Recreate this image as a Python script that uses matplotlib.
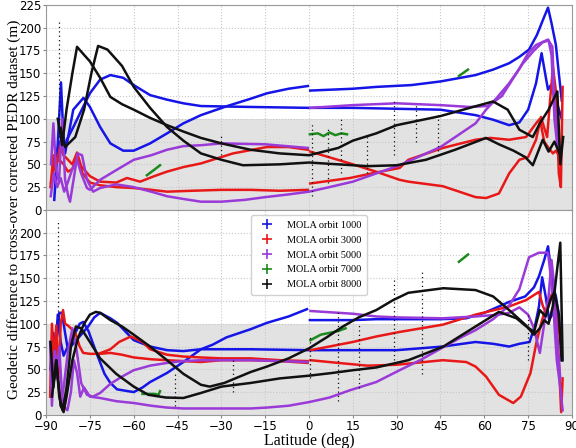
import matplotlib
matplotlib.use("Agg")
import matplotlib.pyplot as plt
from matplotlib.lines import Line2D

# colours per orbit
orbit_labels = ["MOLA orbit 1000", "MOLA orbit 3000", "MOLA orbit 5000", "MOLA orbit 7000", "MOLA orbit 8000"]
orbit_colors = ["#1515e8", "#e81818", "#9a3ad8", "#1e8a1e", "#111111"]

lat_ticks = list(range(-90, 91, 15))

# ---------------- upper panel ----------------
top_blue_a_lat = [-87.2, -86.2, -84.9, -84.2, -83.5, -80.7, -77.2, -75, -71.5, -68, -63.6, -60, -54.4, -48.6, -43, -37, -28, -20, -14.4, -7, -0.4]
top_blue_a_val = [11, 60, 140, 90, 62, 110, 123, 113, 91, 73, 65, 65, 73, 84, 95, 104, 114, 122, 128, 133, 136]
top_blue_b_lat = [0.4, 15, 23, 35, 45, 57, 63, 68.5, 72, 75.3, 78, 80.5, 81.8, 83, 84.5, 85.5, 86.5]
top_blue_b_val = [131, 133, 135, 137, 141, 148, 154, 161, 168, 176, 192, 212, 222, 205, 181, 150, 120]
top_blue_c_lat = [-87.5, -85.5, -84, -82.9, -80.5, -78.4, -75, -71.5, -68, -63.6, -60, -54.4, -48.6, -43, -37, -20, 0, 15, 30, 45, 57, 63, 68.5, 72, 75, 77.7, 79.6, 80.8, 81.8, 82.8, 84.5, 86.5]
top_blue_c_val = [45, 75, 60, 77, 92, 106, 128, 143, 148, 145, 137, 126, 121, 117, 114, 113, 112, 112, 111, 110, 104, 99, 93, 96, 110, 139, 172, 150, 132, 137, 121, 100]

top_red_a_lat = [-88.3, -87, -85.5, -84, -82.5, -81, -79.4, -77.5, -75, -71.5, -66, -60, -54, -48.6, -40, -30, -20, -10, -0.4]
top_red_a_val = [30, 50, 55, 50, 42, 45, 60, 40, 30, 27, 25, 24, 22, 20, 21, 22, 22, 21, 22]
top_red_b_lat = [-88.5, -87.5, -86.5, -85.2, -84, -82.5, -81, -79.4, -78, -75, -71.5, -66, -62.3, -57.8, -53, -48.6, -43, -37, -26, -14.4, -7, -0.4]
top_red_b_val = [25, 60, 50, 70, 60, 55, 50, 63, 48, 37, 31, 30, 35, 31, 37, 42, 47, 51, 62, 69, 69, 66]
top_red_c_lat = [0.4, 14, 22.9, 31, 34, 45.8, 57, 60.6, 65, 68.5, 72, 75, 77.7, 79.4, 80.5, 81.5, 82.5, 83.5, 84.5, 85.5, 86.2, 86.8]
top_red_c_val = [64, 51, 42, 33, 31, 26, 14, 13, 18, 40, 55, 58, 77, 102, 90, 80, 120, 157, 130, 40, 25, 135]
top_red_d_lat = [0.4, 14, 22.9, 31, 34, 45.8, 57, 62, 68.5, 74.3, 77.7, 79, 80.5, 82, 83.5, 84.5, 85.5]
top_red_d_val = [29, 35, 41, 46, 55, 68, 77, 79, 77, 80, 95, 100, 75, 68, 62, 65, 60]

top_purple_a_lat = [-88.3, -87.5, -86.6, -85.6, -84.5, -83.5, -82.4, -81.8, -80.5, -79.2, -77.7, -76, -73.9, -71.5, -66, -60, -54, -48.6, -43, -37, -30, -22, -15, -7, 0, 7, 15, 23, 31, 45, 57, 60.6, 64, 68.5, 72, 75, 77.7, 81.8, 83.3, 84, 85, 86]
top_purple_a_val = [50, 95, 45, 30, 100, 33, 15, 9, 35, 62, 60, 33, 20, 24, 28, 25, 20, 15, 12, 9, 9, 11, 14, 17, 20, 25, 31, 40, 49, 69, 95, 110, 122, 139, 155, 172, 181, 187, 179, 120, 84, 60]
top_purple_b_lat = [-88.4, -87.4, -86.2, -85, -83.8, -82.6, -81, -79.4, -78, -76, -75, -71.5, -65.8, -60, -54, -48.6, -43, -37, -30, -15, -0.4]
top_purple_b_val = [15, 40, 25, 35, 20, 30, 45, 55, 40, 24, 22, 33, 44, 55, 60, 66, 70, 71, 73, 72, 68]
top_purple_c_lat = [0.4, 15, 30, 45, 55, 61, 63, 66, 68, 70, 73, 77, 80, 82, 83, 84, 85]
top_purple_c_val = [112, 115, 117, 115, 113, 114, 118, 125, 135, 145, 160, 175, 184, 186, 170, 100, 70]

top_green_a_lat = [-55.5, -53, -51]
top_green_a_val = [38, 44, 49]
top_green_b_lat = [0.3, 3, 5, 7, 9, 11, 13]
top_green_b_val = [83, 84, 81, 85, 82, 84, 83]
top_green_c_lat = [51.3, 54.4]
top_green_c_val = [147, 154]

top_black_a_lat = [-86, -84.5, -83, -81, -79.4, -77.5, -75, -71.5, -68, -64, -60, -54.4, -48.6, -43, -37, -30, -20, -10, 0, 10, 15, 23, 30, 45, 55, 63, 68, 72, 76.6, 79, 82, 85, 86, 87]
top_black_a_val = [100, 71, 110, 150, 179, 172, 163, 145, 124, 116, 110, 101, 93, 86, 79, 73, 66, 62, 60, 68, 76, 84, 93, 103, 112, 119, 110, 88, 80, 95, 110, 130, 50, 80]
top_black_b_lat = [-85, -83.5, -80, -77, -74.5, -72.2, -69, -64, -60, -54.4, -48.6, -43, -37, -30, -22.6, -10, 0, 10, 20, 30, 40, 50, 60.6, 65, 70, 74, 76.6, 80, 82, 84, 86]
top_black_b_val = [90, 69, 80, 110, 150, 180, 176, 158, 135, 112, 91, 76, 62, 55, 49, 50, 52, 50, 48, 49, 55, 66, 79, 72, 65, 58, 49, 77, 64, 75, 60]

# ---------------- lower panel ----------------
bot_blue_a_lat = [-88.5, -87.5, -86.8, -86, -85, -84, -83, -81.5, -80, -78.5, -77.3, -75.5, -73, -70, -68, -65.7, -62, -60, -57, -54.4, -48.6, -43, -37, -33, -28.3, -20, -14.4, -7, -0.7]
bot_blue_a_val = [50, 90, 70, 110, 80, 65, 72, 80, 90, 100, 102, 92, 70, 45, 35, 28, 26, 25, 30, 36, 46, 58, 72, 77, 85, 94, 101, 108, 116]
bot_blue_b_lat = [0.3, 15, 23, 45, 53.8, 60, 65, 68.5, 74, 77, 78.7, 80.5, 81.8, 82.8, 83.5, 84.5, 85.5, 86.5]
bot_blue_b_val = [104, 104, 105, 105, 106, 112, 119, 124, 130, 140, 152, 170, 185, 160, 141, 130, 110, 60]
bot_blue_c_lat = [-88.3, -87, -85.5, -84.6, -83.5, -82.5, -80.5, -78, -75.6, -73.5, -71.5, -68, -65.7, -60, -54.4, -48.6, -43, -37, -20, 0, 15, 30, 45.8, 57, 63, 68.5, 72, 75.5, 77.5, 78.7, 79.8, 81, 82.2, 83.2, 84.5, 85.5, 86.5]
bot_blue_c_val = [30, 60, 112, 112, 90, 71, 79, 88, 97, 107, 112, 106, 101, 82, 75, 71, 70, 72, 72, 71, 71, 71, 75, 80, 78, 75, 78, 80, 100, 119, 151, 130, 104, 110, 125, 100, 75]

bot_red_a_lat = [-88.6, -88, -87.3, -86.5, -85.8, -85, -84.2, -83.5, -82.5, -81.5, -80, -78.5, -77.3, -75, -71.5, -68, -64, -60, -54, -48.6, -43, -37, -30, -20, -10, -0.5]
bot_red_a_val = [20, 100, 60, 98, 40, 100, 115, 100, 98, 95, 90, 75, 68, 67, 67, 68, 66, 63, 61, 60, 59, 58, 60, 60, 59, 57]
bot_red_b_lat = [-72, -68, -65, -61, -57, -54.4, -48.6, -43, -37, -30, -20, -10, -0.5]
bot_red_b_val = [67, 72, 80, 86, 80, 72, 66, 64, 63, 62, 62, 60, 59]
bot_red_c_lat = [0.5, 10, 20, 30, 45.8, 53.8, 57, 60.6, 65, 69.9, 72.5, 75.8, 77.8, 79.5, 80.5, 81.5, 82.5, 83.3, 84.5, 85.5, 86.3, 86.8]
bot_red_c_val = [60, 57, 54, 55, 60, 58, 53, 42, 22, 13, 20, 46, 79, 101, 112, 118, 128, 134, 115, 60, 3, 40]
bot_red_d_lat = [0.5, 15, 23, 31, 45.8, 57, 68.5, 74.3, 78.7, 80, 81, 82.5, 83.5, 84.5, 85.5]
bot_red_d_val = [71, 80, 86, 91, 99, 110, 119, 126, 135, 120, 112, 125, 134, 110, 90]

bot_purple_a_lat = [-88.6, -88, -87.3, -86.5, -85.5, -84.5, -83.8, -82.7, -81.5, -80.5, -79.4, -78.3, -77, -75, -71.5, -66, -60, -54, -48.6, -43, -37, -30, -20, -14.4, -7, 0, 7, 14, 23, 31, 38, 45.8, 52, 57, 63, 68.5, 72, 75.3, 78.7, 81.8, 82.8, 83.8, 84.8, 86, 86.8]
bot_purple_a_val = [80, 10, 60, 40, 75, 20, 9, 5, 25, 60, 46, 20, 30, 20, 18.5, 15, 13, 10, 8, 7, 7, 7, 7, 8, 10, 14, 19, 27, 36, 49, 60, 74, 85, 93, 105, 120, 138, 173, 178, 178, 150, 110, 60, 30, 5]
bot_purple_b_lat = [-88, -87, -86, -85, -84, -82.5, -81, -79.5, -78, -76, -74, -71.5, -68, -64, -60, -54.4, -48.6, -43, -37, -30, -20, -10, -0.5]
bot_purple_b_val = [30, 70, 40, 10, 30, 70, 95, 70, 35, 22, 20, 24, 34, 42, 49, 54, 57, 59, 60, 60, 60, 59, 58]
bot_purple_c_lat = [0.5, 15, 23, 30, 45.8, 57, 65, 68.5, 72, 75, 77, 79, 80.5, 82, 83, 84, 85, 86]
bot_purple_c_val = [114, 111, 108, 107, 106, 108, 110, 112, 118, 110, 95, 68, 100, 130, 170, 140, 80, 40]

bot_green_a_lat = [-57, -53, -51.5, -51]
bot_green_a_val = [23, 23, 22, 26]
bot_green_b_lat = [0.5, 4, 7, 10, 12.5]
bot_green_b_val = [82, 88, 90, 92, 95]
bot_green_c_lat = [51.3, 54.4]
bot_green_c_val = [168, 176]

bot_black_a_lat = [-88.5, -87.5, -86.5, -85.5, -84.3, -83, -81.5, -79.8, -78, -75, -71.5, -66, -60, -55, -49, -43, -37, -30, -20, -10, 0, 8, 15, 23, 34, 46, 57, 65, 71, 74, 77, 79, 81, 82.5, 84, 85.5, 86.5]
bot_black_a_val = [80, 30, 60, 20, 5, 30, 75, 97, 95, 80, 62, 45, 31, 22, 19, 18.5, 24, 31, 35, 40, 43, 46, 49, 52, 60, 75, 97, 113, 106, 98, 91, 115, 108, 125, 135, 110, 60]
bot_black_b_lat = [-88, -86.5, -85, -84, -83, -81, -79, -77, -75, -73, -71.5, -68, -64, -60, -54.4, -48.6, -43, -37, -34, -29, -20, -14.4, -7, 0, 6, 11.6, 17, 23, 28.8, 34, 46, 57, 63, 68.5, 74, 77, 79, 80.5, 82, 83.5, 85, 86, 86.8]
bot_black_b_val = [20, 60, 10, 3, 20, 60, 85, 100, 110, 113, 112, 104, 97, 88, 75, 60, 45, 33, 31, 35, 47, 53, 62, 73, 85, 97, 107, 115, 126, 134, 139, 137, 130, 115, 99, 88, 95, 104, 100, 120, 162, 189, 60]

# sparse black scatter columns (lat, low, high)
top_spike_lat = [-85.6, -30, 1, 6.5, 11, 20, 29, 36.6, 44]
top_spike_lo = [80, 60, 15, 30, 40, 40, 60, 75, 65]
top_spike_hi = [208, 82, 95, 90, 100, 80, 120, 115, 105]
bot_spike_lat = [-85.8, -46, -26, 0.5, 10, 17, 29, 38.5, 75]
bot_spike_lo = [104, 10, 25, 40, 15, 30, 60, 45, 60]
bot_spike_hi = [212, 45, 60, 85, 115, 100, 150, 160, 110]

top_curves = [
    (top_blue_a_lat, top_blue_a_val, 0), (top_blue_b_lat, top_blue_b_val, 0), (top_blue_c_lat, top_blue_c_val, 0),
    (top_red_a_lat, top_red_a_val, 1), (top_red_b_lat, top_red_b_val, 1), (top_red_c_lat, top_red_c_val, 1), (top_red_d_lat, top_red_d_val, 1),
    (top_purple_a_lat, top_purple_a_val, 2), (top_purple_b_lat, top_purple_b_val, 2), (top_purple_c_lat, top_purple_c_val, 2),
    (top_green_a_lat, top_green_a_val, 3), (top_green_b_lat, top_green_b_val, 3), (top_green_c_lat, top_green_c_val, 3),
    (top_black_a_lat, top_black_a_val, 4), (top_black_b_lat, top_black_b_val, 4),
]
bot_curves = [
    (bot_blue_a_lat, bot_blue_a_val, 0), (bot_blue_b_lat, bot_blue_b_val, 0), (bot_blue_c_lat, bot_blue_c_val, 0),
    (bot_red_a_lat, bot_red_a_val, 1), (bot_red_b_lat, bot_red_b_val, 1), (bot_red_c_lat, bot_red_c_val, 1), (bot_red_d_lat, bot_red_d_val, 1),
    (bot_purple_a_lat, bot_purple_a_val, 2), (bot_purple_b_lat, bot_purple_b_val, 2), (bot_purple_c_lat, bot_purple_c_val, 2),
    (bot_green_a_lat, bot_green_a_val, 3), (bot_green_b_lat, bot_green_b_val, 3), (bot_green_c_lat, bot_green_c_val, 3),
    (bot_black_a_lat, bot_black_a_val, 4), (bot_black_b_lat, bot_black_b_val, 4),
]

serif = ["Liberation Serif", "DejaVu Serif"]

fig, (ax_top, ax_bot) = plt.subplots(2, 1, sharex=True, figsize=(5.76, 4.48), dpi=100)
fig.subplots_adjust(left=0.08, right=0.993, top=0.989, bottom=0.074, hspace=0)


def style_axis(ax, yticks):
    ax.axhspan(0, 100, color="#e2e2e2", zorder=0, lw=0)
    ax.set_axisbelow(True)
    ax.grid(True, color="#c8c8c8", linestyle=":", linewidth=0.8)
    ax.set_xlim(-90, 90)
    ax.set_ylim(0, 225)
    ax.set_xticks(lat_ticks)
    ax.set_yticks(yticks)
    ax.tick_params(labelsize=8.5, length=2, color="#888888", pad=1.5)
    for sp in ax.spines.values():
        sp.set_color("#999999")


def draw(ax, curves, sp_lat, sp_lo, sp_hi):
    for lat, val, k in curves:
        ax.plot(lat, val, color=orbit_colors[k], lw=1.8, zorder=3)
    ax.vlines(sp_lat, sp_lo, sp_hi, colors=orbit_colors[4], linestyles=(0, (1, 2.5)), lw=0.9, zorder=4)


style_axis(ax_top, range(0, 226, 25))
style_axis(ax_bot, range(0, 201, 25))
draw(ax_top, top_curves, top_spike_lat, top_spike_lo, top_spike_hi)
draw(ax_bot, bot_curves, bot_spike_lat, bot_spike_lo, bot_spike_hi)

handles = [Line2D([], [], color=c, marker="+", linestyle="None", markersize=7, markeredgewidth=1.2) for c in orbit_colors]
ax_bot.legend(handles, orbit_labels, loc="upper center", prop={"family": serif, "size": 7.4},
              labelspacing=0.55, handletextpad=0.9, borderpad=0.55, framealpha=0.9, edgecolor="#cccccc")

ax_bot.set_xlabel("Latitude (deg)", family=serif, fontsize=11.5, labelpad=0.5)
fig.text(0.012, 0.532, "Geodetic difference to cross-over corrected PEDR dataset (m)", rotation=90,
         va="center", ha="left", family=serif, fontsize=11)

fig.savefig("out.png", dpi=100)
